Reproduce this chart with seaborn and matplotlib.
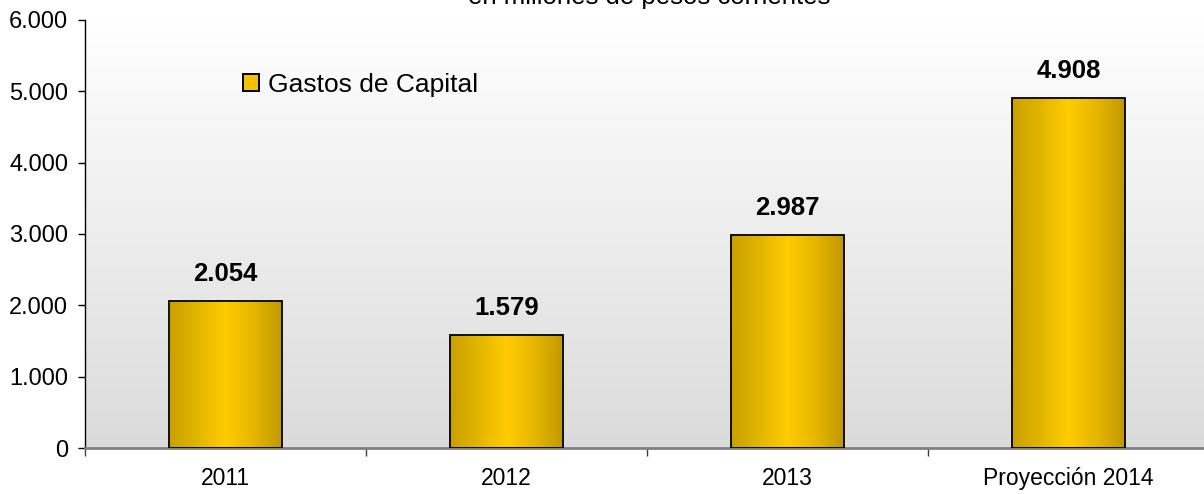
import numpy as np
import matplotlib
matplotlib.use("Agg")
import matplotlib.pyplot as plt
import seaborn as sns
from matplotlib.colors import LinearSegmentedColormap
from matplotlib.patches import Patch

# Data
categories = ["2011", "2012", "2013", "Proyección 2014"]
gastos_capital = [2054, 1579, 2987, 4908]
y_ticks = [0, 1000, 2000, 3000, 4000, 5000, 6000]
series_name = "Gastos de Capital"
subtitle = "en millones de pesos corrientes"


def miles(v):
    return f"{v:,.0f}".replace(",", ".")


sns.set_theme(style="white")
plt.rcParams["font.family"] = ["Liberation Sans", "DejaVu Sans"]
plt.rcParams["text.color"] = "black"

W, H = 1204, 494
fig = plt.figure(figsize=(W / 100, H / 100), dpi=100)
rect = [85 / W, 46 / H, 1124 / W, 428 / H]

# Plot-area background: vertical white-to-grey gradient
bg = fig.add_axes(rect, zorder=0)
bg_cmap = LinearSegmentedColormap.from_list("bg", ["#dbdbdb", "#ffffff"])
bg.imshow(np.linspace(0, 1, 256).reshape(-1, 1), cmap=bg_cmap, aspect="auto",
          origin="lower", extent=[0, 1, 0, 1])
bg.set_axis_off()

ax = fig.add_axes(rect, zorder=1)
ax.patch.set_alpha(0)

sns.barplot(x=categories, y=gastos_capital, color="#ffcc00", width=0.4,
            edgecolor="black", linewidth=1.3, ax=ax, zorder=2)

# Metallic gold fill across each bar
bar_cmap = LinearSegmentedColormap.from_list(
    "gold", ["#c9a000", "#e2b500", "#ffcc00", "#e6b600", "#c19900"])
grad = np.linspace(0, 1, 256).reshape(1, -1)
for bar in ax.patches:
    x0, y0 = bar.get_x(), bar.get_y()
    w, h = bar.get_width(), bar.get_height()
    im = ax.imshow(grad, cmap=bar_cmap, aspect="auto",
                   extent=[x0, x0 + w, y0, y0 + h], zorder=2.5)
    im.set_clip_path(bar)
    bar.set_facecolor("none")
    bar.set_zorder(3)

# Value labels
for i, v in enumerate(gastos_capital):
    ax.annotate(miles(v), xy=(i, v), xytext=(0, 19.5), textcoords="offset points",
                ha="center", va="center", fontsize=18.5, fontweight="bold",
                color="black", zorder=4)

ax.set_xlim(-0.5, 3.5)
ax.set_ylim(0, 6000)

ax.set_yticks(y_ticks)
ax.set_yticklabels([miles(t) for t in y_ticks])
ax.set_xticks(range(len(categories)))
ax.set_xticklabels(categories)
ax.set_xticks([i - 0.5 for i in range(len(categories) + 1)], minor=True)

ax.tick_params(axis="y", which="major", left=True, direction="out", length=5,
               width=1, color="black", pad=7, labelsize=17, labelcolor="black")
ax.tick_params(axis="x", which="major", bottom=True, length=0, pad=14,
               labelsize=16.5, labelcolor="black")
ax.tick_params(axis="x", which="minor", bottom=True, direction="out", length=6,
               width=1, color="#404040")

for s in ["top", "right"]:
    ax.spines[s].set_visible(False)
ax.spines["left"].set_color("black")
ax.spines["left"].set_linewidth(1)
ax.spines["bottom"].set_color("#808080")
ax.spines["bottom"].set_linewidth(2)
ax.set_xlabel("")
ax.set_ylabel("")
ax.grid(False)

handle = Patch(facecolor="#f2c200", edgecolor="black", linewidth=1.4)
leg = ax.legend([handle], [series_name], loc="center left",
                bbox_to_anchor=(243 / W, 1 - 85 / H), bbox_transform=fig.transFigure,
                frameon=False, fontsize=19, handlelength=0.6, handleheight=0.6,
                handletextpad=0.35, borderpad=0, borderaxespad=0)
for t in leg.get_texts():
    t.set_color("black")

fig.text(649 / W, 1 - 4 / H, subtitle, ha="center", va="baseline",
         fontsize=18.5, color="black")

fig.savefig("out.png", dpi=100)
